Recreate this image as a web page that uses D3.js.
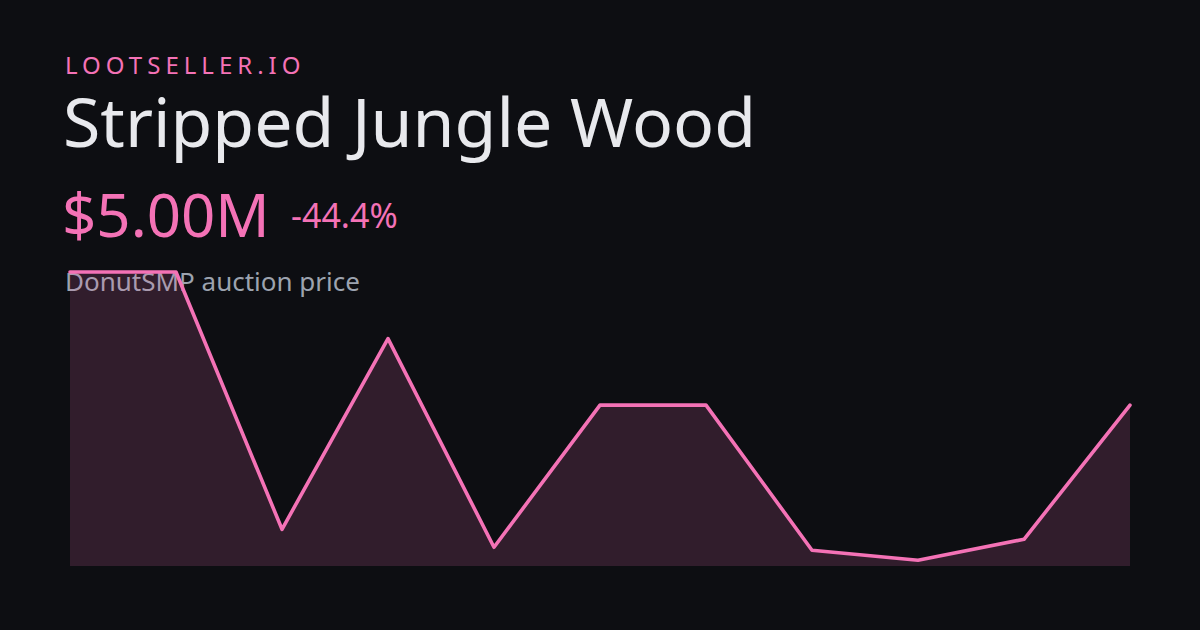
<!DOCTYPE html>
<html>
<head>
<meta charset="utf-8">
<script src="https://cdn.jsdelivr.net/npm/d3@7"></script>
<style>
  html, body { margin: 0; padding: 0; background: #0d0e12; }
  svg { display: block; }
</style>
</head>
<body>
<svg id="chart" width="1200" height="630"></svg>
<script>
// Data
const brand = "LOOTSELLER.IO";
const itemName = "Stripped Jungle Wood";
const priceLabel = "$5.00M";
const changeLabel = "-44.4%";
const subtitle = "DonutSMP auction price";
const points = [0, 1, 2, 3, 4, 5, 6, 7, 8, 9, 10];
const prices = [9.0, 9.0, 1.27, 7.0, 0.73, 5.0, 5.0, 0.64, 0.34, 0.97, 5.0];

const svg = d3.select("#chart");
const W = 1200, H = 630;
const pink = "#f472b6";
const font = "'Noto Sans', 'Open Sans', sans-serif";

svg.append("rect").attr("width", W).attr("height", H).attr("fill", "#0d0e12");

svg.append("text").attr("x", 65).attr("y", 74)
  .attr("fill", pink).attr("font-family", font).attr("font-size", 24)
  .attr("letter-spacing", 5).text(brand);

svg.append("text").attr("x", 63).attr("y", 147)
  .attr("fill", "#e8e9ed").attr("font-family", font).attr("font-size", 68)
  .text(itemName);

svg.append("text").attr("x", 62).attr("y", 237)
  .attr("fill", pink).attr("font-family", font).attr("font-size", 60)
  .text(priceLabel);

svg.append("text").attr("x", 291).attr("y", 228)
  .attr("fill", pink).attr("font-family", font).attr("font-size", 34)
  .text(changeLabel);

svg.append("text").attr("x", 65).attr("y", 291)
  .attr("fill", "#9ca3af").attr("font-family", font).attr("font-size", 26)
  .text(subtitle);

// Chart
const x = d3.scaleLinear().domain(d3.extent(points)).range([70, 1130]);
const yMin = d3.min(prices), yMax = d3.max(prices);
const y = d3.scaleLinear().domain([yMin - (yMax - yMin) * 0.02, yMax]).range([566, 272]);

const area = d3.area()
  .x((d, i) => x(points[i]))
  .y0(y.range()[0])
  .y1(d => y(d));
const line = d3.line()
  .x((d, i) => x(points[i]))
  .y(d => y(d));

svg.append("path").datum(prices).attr("d", area)
  .attr("fill", pink).attr("fill-opacity", 0.16);
svg.append("path").datum(prices).attr("d", line)
  .attr("fill", "none").attr("stroke", pink).attr("stroke-width", 3.6)
  .attr("stroke-linejoin", "round").attr("stroke-linecap", "round");
</script>
</body>
</html>
